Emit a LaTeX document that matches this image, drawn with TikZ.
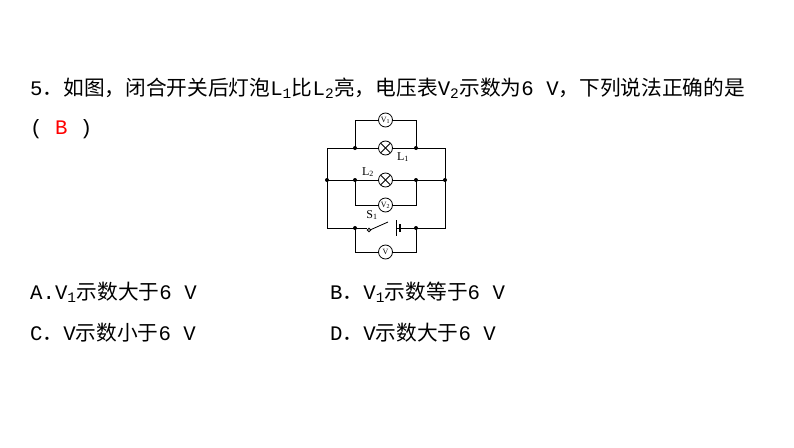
\documentclass[tikz,border=0pt]{standalone}
\usepackage{fontspec}
\newfontfamily\cjk{Noto Sans CJK SC}
\newfontfamily\mono{Liberation Mono}
\newcommand{\mm}[1]{{\mono #1}}
\setmainfont{Liberation Serif}
\begin{document}
\begin{tikzpicture}[x=1pt,y=-1pt,
  wire/.style={line width=0.8pt},
  dot/.style={circle,fill,inner sep=0pt,minimum size=4pt},
  lamp/.style={circle,draw,line width=0.8pt,fill=white,minimum size=14pt,inner sep=0pt,path picture={\draw[line width=0.8pt] ([xshift=2pt,yshift=-2pt]path picture bounding box.north west)--([xshift=-2pt,yshift=2pt]path picture bounding box.south east);\draw[line width=0.8pt] ([xshift=2pt,yshift=2pt]path picture bounding box.south west)--([xshift=-2pt,yshift=-2pt]path picture bounding box.north east);}},
  vm/.style={circle,draw,line width=0.8pt,fill=white,minimum size=14pt,inner sep=0pt,font=\fontsize{8}{8}\selectfont},
  lab/.style={font=\fontsize{12}{12}\selectfont},
  txt/.style={anchor=west,inner sep=0pt,font=\cjk\fontsize{20.7}{20.7}\selectfont}]
\useasboundingbox (0,0) rectangle (794,447);
% text
\node[txt] (q) at (30,88) {\mm{5}．如图，闭合开关后灯泡\mm{L\textsubscript{1}}比\mm{L\textsubscript{2}}亮，电压表\mm{V\textsubscript{2}}示数为\mm{6 V}，下列说法正确的是};
\node[txt] (ans) at (30,129) {\mm{( \textcolor{red}{B} )}};
\node[txt] (oa) at (30,292) {\mm{A.V\textsubscript{1}}示数大于\mm{6 V}};
\node[txt] (ob) at (330,292) {\mm{B}．\mm{V\textsubscript{1}}示数等于\mm{6 V}};
\node[txt] (oc) at (30,333) {\mm{C}．\mm{V}示数小于\mm{6 V}};
\node[txt] (od) at (330,333) {\mm{D}．\mm{V}示数大于\mm{6 V}};
% coordinates
\coordinate (a1) at (327,148); \coordinate (b1) at (355,148); \coordinate (c1) at (416,148); \coordinate (d1) at (445,148);
\coordinate (a2) at (327,180); \coordinate (b2) at (355,180); \coordinate (c2) at (416,180); \coordinate (d2) at (445,180);
\coordinate (a3) at (327,228); \coordinate (b3) at (355,228); \coordinate (c3) at (416,228); \coordinate (d3) at (445,228);
\coordinate (t1) at (355,120); \coordinate (t2) at (416,120);
\coordinate (m1) at (355,205); \coordinate (m2) at (416,205);
\coordinate (u1) at (355,252); \coordinate (u2) at (416,252);
\draw[wire] (a1)--(d1)--(d3)--(a3)--cycle;
\draw[wire] (a2)--(d2);
\draw[wire] (b1)--(t1)--(t2)--(c1);
\draw[wire] (b2)--(m1)--(m2)--(c2);
\draw[wire] (b3)--(u1)--(u2)--(c3);
% switch and battery
\coordinate (s0) at (370,230); \coordinate (s1) at (388,222);
\fill[white] (365,224) rectangle (402,233);
\draw[wire] (b3)--(367,228);
\draw[line width=0.8pt] (369,230) circle (1.8pt);
\draw[wire] (s0)--(s1);
\draw[wire] (396,228)--(c3);
\draw[line width=0.8pt] (396,220)--(396,236);
\draw[line width=1.8pt] (400,224)--(400,232);
\node[lab] (sl) at (372,215) {S\textsubscript{1}};
% components
\node[vm] (v1) at (385.5,120) {V\textsubscript{1}};
\node[lamp] (l1) at (385.5,148) {};
\node[lab] (l1t) at (403,157) {L\textsubscript{1}};
\node[lamp] (l2) at (385.5,180) {};
\node[lab] (l2t) at (368,172) {L\textsubscript{2}};
\node[vm] (v2) at (385.5,205) {V\textsubscript{2}};
\node[vm] (v) at (385.5,252) {V};
\foreach \p in {a2,d2,b1,c1,b2,c2,b3,c3} \node[dot] at (\p) {};
\end{tikzpicture}
\end{document}
